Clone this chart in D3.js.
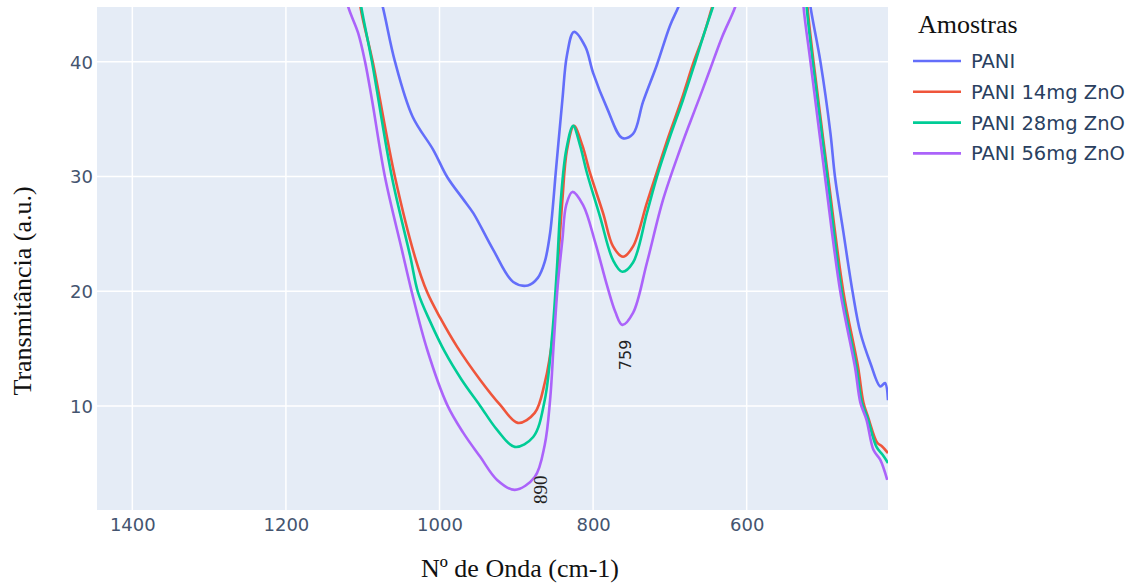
<!DOCTYPE html>
<html>
<head>
<meta charset="utf-8">
<style>
  body { margin: 0; background: #fff; }
  svg { display: block; }
</style>
</head>
<body>
<svg id="chart" width="1134" height="586"></svg>
<script src="https://cdn.jsdelivr.net/npm/d3@7"></script>
<script>
// series names and colours
var names = ["PANI", "PANI 14mg ZnO", "PANI 28mg ZnO", "PANI 56mg ZnO"];
var colors = ["#636efa", "#ef553b", "#00cc96", "#ab63fa"];

// tick values
var xTicks = [1400, 1200, 1000, 800, 600];
var yTicks = [10, 20, 30, 40];

// [wavenumber, transmittance] (points past the top edge get clipped)
var pani = [
  [1085, 47.5], [1074, 44.8], [1058, 40.0], [1035, 35.2], [1008, 32.3], [990, 29.95],
  [969, 28.0], [956, 26.8], [930, 23.6], [904, 20.8], [885, 20.5], [872, 21.16],
  [863, 22.55], [856, 25.07], [848, 30.83], [840, 36.66], [834, 40.58], [825, 42.59],
  [810, 41.28], [800, 39.02], [782, 35.97], [762, 33.35], [748, 33.7], [735, 36.49],
  [717, 39.71], [700, 43.11], [689, 44.76], [681, 46.2],
  [522, 47.5], [517, 44.8], [504, 40.0], [491, 33.8], [485, 29.95], [474, 25.1],
  [462, 19.9], [452, 16.4], [439, 13.75], [426, 11.7], [420, 12.0], [416, 10.5]
];
var pani14 = [
  [1106, 47.5], [1103, 44.8], [1087, 40.0], [1058, 29.95], [1032, 23.0], [1016, 19.9],
  [999, 17.67], [977, 15.15], [947, 12.27], [921, 10.09], [898, 8.53], [876, 9.4],
  [863, 12.0], [852, 16.4], [846, 22.1], [840, 27.95], [834, 32.3], [825, 34.4],
  [814, 32.7], [804, 30.3], [787, 26.8], [774, 23.9], [761, 23.0], [748, 23.9],
  [730, 27.7], [719, 29.95], [702, 33.44], [685, 36.66], [669, 39.97], [656, 42.33],
  [645, 44.76], [640, 45.8],
  [524, 47.5], [521, 44.8], [513, 40.0], [494, 29.95], [474, 19.9], [455, 13.4],
  [448, 10.3], [442, 9.05], [430, 6.8], [424, 6.5], [416, 5.9]
];
var pani28 = [
  [1108, 47.5], [1102, 44.8], [1088, 40.0], [1062, 29.95], [1038, 23.0], [1028, 19.9],
  [1012, 17.33], [993, 14.71], [971, 12.27], [947, 10.01], [925, 7.92], [902, 6.44],
  [878, 7.3], [863, 10.5], [853, 16.4], [847, 22.1], [842, 27.95], [835, 32.3],
  [826, 34.4], [817, 32.7], [808, 30.3], [791, 26.5], [774, 22.7], [762, 21.7],
  [748, 22.5], [730, 26.8], [717, 29.95], [700, 33.44], [683, 36.66], [667, 39.97],
  [656, 42.33], [644, 44.76], [639, 45.8],
  [525, 47.5], [522, 44.8], [514, 40.0], [495, 29.95], [476, 19.9], [457, 13.4],
  [450, 10.3], [443, 9.05], [431, 6.44], [423, 5.75], [416, 5.04]
];
var pani56 = [
  [1128, 47.5], [1119, 44.8], [1106, 42.5], [1097, 40.0], [1088, 36.7], [1071, 29.95],
  [1049, 23.6], [1036, 19.9], [1016, 14.9], [990, 10.1], [969, 7.66], [947, 5.57],
  [925, 3.56], [902, 2.69], [876, 3.82], [863, 6.61], [856, 10.53], [851, 15.76],
  [846, 20.55], [840, 24.47], [835, 27.51], [827, 28.65], [813, 27.5], [797, 24.19],
  [782, 20.53], [771, 18.18], [762, 17.07], [748, 18.11], [730, 22.46], [709, 27.95],
  [687, 32.3], [674, 34.66], [661, 36.93], [648, 39.27], [632, 42.15], [615, 44.76],
  [605, 47.0],
  [528, 47.5], [526, 44.8], [517, 40.0], [498, 29.95], [478, 19.9], [459, 13.4],
  [452, 10.3], [444, 8.8], [435, 6.18], [426, 5.3], [417, 3.56]
];
var series = [pani, pani14, pani28, pani56];

// peak labels: [text, wavenumber, transmittance, font]
var peakLabels = [
  ["890", 869, 2.7, "'Liberation Serif', serif"],
  ["759", 758, 14.45, "'DejaVu Sans', sans-serif"]
];

var svg = d3.select("#chart");
var mLeft = 97, mTop = 7, mRight = 888, mBottom = 510;
var tickColor = "#44546f";
var tickFont = "'DejaVu Sans', Verdana, sans-serif";
var serif = "'Liberation Serif', 'Times New Roman', serif";

var x = d3.scaleLinear().domain([1446, 416]).range([mLeft, mRight]);
var y = d3.scaleLinear().domain([0.94, 44.76]).range([mBottom, mTop]);

svg.append("rect")
  .attr("x", mLeft).attr("y", mTop)
  .attr("width", mRight - mLeft).attr("height", mBottom - mTop)
  .attr("fill", "#e5ecf6");

svg.append("clipPath").attr("id", "plotclip")
  .append("rect")
  .attr("x", mLeft).attr("y", mTop)
  .attr("width", mRight - mLeft).attr("height", mBottom - mTop);

// grid lines
svg.append("g").selectAll("line").data(xTicks).enter().append("line")
  .attr("x1", function(d) { return x(d); }).attr("x2", function(d) { return x(d); })
  .attr("y1", mTop).attr("y2", mBottom)
  .attr("stroke", "#fff").attr("stroke-width", 1.5);
svg.append("g").selectAll("line").data(yTicks).enter().append("line")
  .attr("y1", function(d) { return y(d); }).attr("y2", function(d) { return y(d); })
  .attr("x1", mLeft).attr("x2", mRight)
  .attr("stroke", "#fff").attr("stroke-width", 1.5);

// axes (labels only, plotly style)
var xAxis = svg.append("g")
  .attr("transform", "translate(0," + mBottom + ")")
  .call(d3.axisBottom(x).tickValues(xTicks).tickFormat(d3.format("d")).tickSize(0).tickPadding(8));
var yAxis = svg.append("g")
  .attr("transform", "translate(" + mLeft + ",0)")
  .call(d3.axisLeft(y).tickValues(yTicks).tickFormat(d3.format("d")).tickSize(0).tickPadding(4));
[xAxis, yAxis].forEach(function(a) {
  a.select(".domain").remove();
  a.selectAll("text")
    .attr("fill", tickColor)
    .style("font-family", tickFont)
    .style("font-size", "18px");
});
yAxis.selectAll("text").attr("dy", "0.36em");

// lines
var line = d3.line()
  .x(function(d) { return x(d[0]); })
  .y(function(d) { return y(d[1]); })
  .curve(d3.curveCatmullRom.alpha(0.5));

var plot = svg.append("g").attr("clip-path", "url(#plotclip)");
series.forEach(function(s, i) {
  plot.append("path")
    .datum(s)
    .attr("d", line)
    .attr("fill", "none")
    .attr("stroke", colors[i])
    .attr("stroke-width", 2.6)
    .attr("stroke-linejoin", "round");
});

// peak annotations
peakLabels.forEach(function(p) {
  svg.append("text")
    .attr("transform", "translate(" + x(p[1]) + "," + y(p[2]) + ") rotate(-90)")
    .attr("text-anchor", "middle")
    .attr("dy", "0.35em")
    .style("font-family", p[3])
    .style("font-size", p[0] == "890" ? "19px" : "16px")
    .attr("fill", "#222")
    .text(p[0]);
});

// axis titles
svg.append("text")
  .attr("x", 520).attr("y", 577)
  .attr("text-anchor", "middle")
  .style("font-family", serif).style("font-size", "26px")
  .attr("fill", "#111")
  .text("Nº de Onda (cm-1)");
svg.append("text")
  .attr("transform", "translate(31,291) rotate(-90)")
  .attr("text-anchor", "middle")
  .style("font-family", serif).style("font-size", "26px")
  .attr("fill", "#111")
  .text("Transmitância (a.u.)");

// legend
var legend = svg.append("g");
legend.append("text")
  .attr("x", 918).attr("y", 33)
  .style("font-family", serif).style("font-size", "26px")
  .attr("fill", "#111")
  .text("Amostras");
var item = legend.selectAll("g.item").data(names).enter().append("g")
  .attr("transform", function(d, i) { return "translate(0," + (61 + i * 30.8) + ")"; });
item.append("line")
  .attr("x1", 913).attr("x2", 961)
  .attr("stroke", function(d, i) { return colors[i]; })
  .attr("stroke-width", 2.6);
item.append("text")
  .attr("x", 971).attr("dy", "0.36em")
  .style("font-family", tickFont).style("font-size", "19.5px")
  .attr("fill", "#2a3f5f")
  .text(function(d) { return d; });
</script>
</body>
</html>
